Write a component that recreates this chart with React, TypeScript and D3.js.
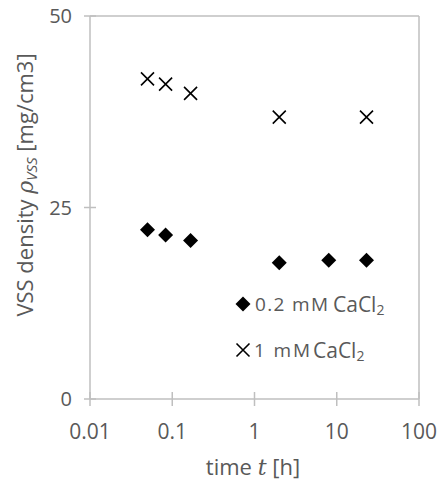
import React from "react";
import * as d3 from "d3";

const timeLow = [0.05, 0.083, 0.167, 2, 8, 23];
const valLow = [22.1, 21.4, 20.7, 17.8, 18.1, 18.1];
const timeHigh = [0.05, 0.083, 0.167, 2, 23];
const valHigh = [41.8, 41.1, 39.9, 36.8, 36.8];
const xTicks = [0.01, 0.1, 1, 10, 100];
const xTickLabels = ["0.01", "0.1", "1", "10", "100"];
const yTicks = [0, 25, 50];

const W = 443, H = 481;
const L = 90, R = 419, T = 16, B = 399;
const FONT = "'Open Sans', 'Noto Sans', sans-serif";
const GRAY = "#595959";
const AX = "#bfbfbf";

export default function App() {
  const x = d3.scaleLog().domain([0.01, 100]).range([L, R]);
  const y = d3.scaleLinear().domain([0, 50]).range([B, T]);
  const r = 7.5;
  const diamond = `M0,${-r}L${r},0L0,${r}L${-r},0Z`;
  const cross = (cx: number, cy: number, k: string) => {
    const s = 6.5;
    return (
      <path key={k} d={`M${cx - s},${cy - s}L${cx + s},${cy + s}M${cx - s},${cy + s}L${cx + s},${cy - s}`}
        stroke="#000" strokeWidth={1.6} fill="none" />
    );
  };
  return (
    <svg width={W} height={H} style={{ position: "absolute", left: 0, top: 0 }} fontFamily={FONT}>
      <rect x={0} y={0} width={W} height={H} fill="#fff" />
      <line x1={L} x2={R} y1={T} y2={T} stroke={AX} strokeWidth={1.5} />
      <line x1={R} x2={R} y1={T} y2={B} stroke={AX} strokeWidth={1.5} />
      <line x1={L} x2={L} y1={T} y2={B} stroke={AX} strokeWidth={1.5} />
      <line x1={L} x2={R} y1={B} y2={B} stroke={AX} strokeWidth={1.5} />
      {yTicks.map((t) => (
        <g key={"y" + t}>
          <line x1={L - 6} x2={L + 6} y1={y(t)} y2={y(t)} stroke={AX} strokeWidth={1.5} />
          <text x={72} y={y(t)} dy="0.35em" textAnchor="end" fontSize={20} fill={GRAY}>{t}</text>
        </g>
      ))}
      {xTicks.map((t, i) => (
        <g key={"x" + t}>
          <line x1={x(t)} x2={x(t)} y1={B - 7} y2={B + 7} stroke={AX} strokeWidth={1.5} />
          <text x={x(t)} y={439} textAnchor="middle" fontSize={21} fill={GRAY}>{xTickLabels[i]}</text>
        </g>
      ))}
      <text x={253} y={475} textAnchor="middle" fontSize={22} fill={GRAY}>
        time <tspan fontStyle="italic" fontFamily="'DejaVu Serif', serif">t</tspan> [h]
      </text>
      <text transform={`translate(33,185) rotate(-90)`} textAnchor="middle" fontSize={22} fill={GRAY}>
        VSS density <tspan fontStyle="italic" fontFamily="'DejaVu Serif', serif">ρ</tspan>
        <tspan fontStyle="italic" fontSize={15} dy={4}>VSS</tspan>
        <tspan dy={-4}> [mg/cm3]</tspan>
      </text>
      {timeLow.map((t, i) => (
        <path key={"d" + i} d={diamond} transform={`translate(${x(t)},${y(valLow[i])})`} fill="#000" />
      ))}
      {timeHigh.map((t, i) => cross(x(t), y(valHigh[i]), "c" + i))}
      <path d={diamond} transform="translate(243,304)" fill="#000" />
      <text x={255} y={311} fontSize={19} fill={GRAY} textLength={73} lengthAdjust="spacing">0.2 mM</text>
      <text x={333} y={312} fontSize={21} fill={GRAY}>CaCl<tspan fontSize={14} dy={3}>2</tspan></text>
      {cross(243, 350, "lc")}
      <text x={254} y={357} fontSize={19} fill={GRAY} textLength={56} lengthAdjust="spacing">1 mM</text>
      <text x={313} y={358} fontSize={21} fill={GRAY}>CaCl<tspan fontSize={14} dy={3}>2</tspan></text>
    </svg>
  );
}
